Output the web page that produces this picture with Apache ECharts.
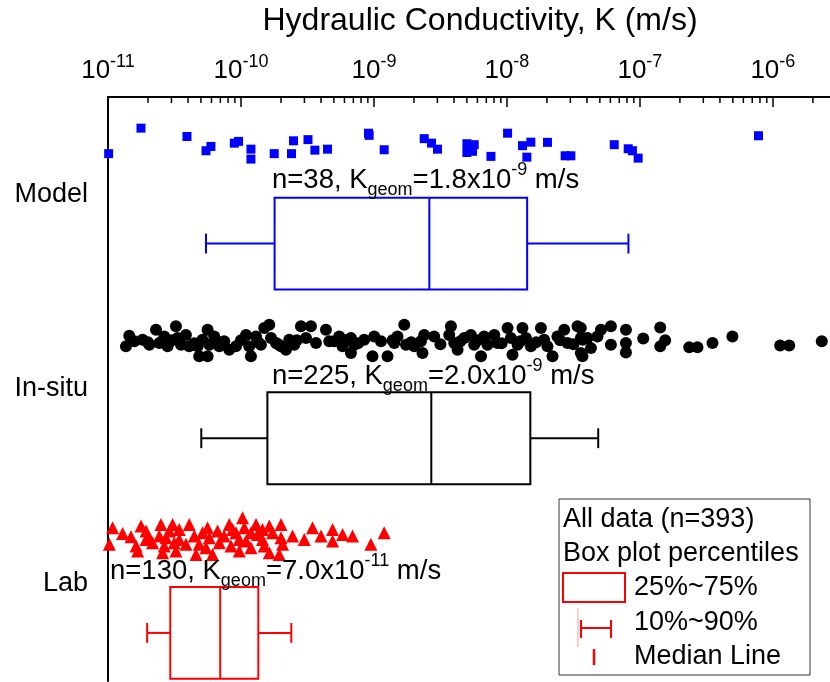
<!DOCTYPE html>
<html lang="en">
<head>
    <meta charset="UTF-8">
    <title>Hydraulic Conductivity</title>
    <script src="https://cdn.jsdelivr.net/npm/echarts@6/dist/echarts.min.js"></script>
    <style>
        html, body { margin: 0; padding: 0; background: #fff; }
        #main { width: 830px; height: 682px; }
    </style>
</head>
<body>
<div id="main"></div>

<script>
    // categories, bottom to top
    var categories = ['Lab', 'In-situ', 'Model'];

    // scatter points: log10(K) and vertical jitter (category units, above the tick)
    var modelLogK = [-10.995, -10.752, -10.406, -10.263, -10.226, -10.050, -10.018, -9.925, -9.925, -9.750,
        -9.620, -9.605, -9.496, -9.444, -9.349, -9.041, -9.036, -8.923, -8.622, -8.567,
        -8.522, -8.301, -8.246, -8.301, -8.259, -8.120, -7.995, -7.883, -7.820, -7.850,
        -7.695, -7.562, -7.519, -7.193, -7.088, -7.056, -7.013, -6.108];
    var modelJitter = [0.209, 0.340, 0.297, 0.224, 0.246, 0.263, 0.272, 0.232, 0.181, 0.209,
        0.209, 0.275, 0.281, 0.227, 0.232, 0.314, 0.303, 0.229, 0.286, 0.263,
        0.232, 0.260, 0.255, 0.215, 0.221, 0.195, 0.314, 0.250, 0.268, 0.191,
        0.267, 0.198, 0.198, 0.255, 0.234, 0.224, 0.186, 0.301];

    var insituLogK = [-10.840, -10.865, -10.802, -10.740, -10.689, -10.639, -10.614, -10.577, -10.552, -10.489,
        -10.477, -10.451, -10.414, -10.389, -10.326, -10.314, -10.289, -10.251, -10.238, -10.251,
        -10.201, -10.163, -10.126, -10.088, -10.038, -9.962, -9.938, -9.925, -9.887, -9.850,
        -9.825, -9.787, -9.774, -9.737, -9.699, -9.662, -9.637, -9.599, -9.549, -9.511,
        -9.474, -9.436, -9.361, -9.336, -9.261, -9.236, -9.198, -9.173, -9.148, -9.173,
        -9.073, -9.011, -8.998, -8.947, -8.898, -8.847, -8.823, -8.772, -8.759, -8.697,
        -8.647, -8.622, -8.635, -8.547, -8.421, -8.434, -8.396, -8.371, -8.321, -8.271,
        -8.246, -8.195, -8.171, -8.146, -8.095, -8.071, -7.995, -7.970, -7.958, -7.920,
        -7.883, -7.857, -7.820, -7.744, -7.720, -7.695, -7.657, -7.620, -7.569, -7.544,
        -7.469, -7.444, -7.432, -7.444, -7.432, -7.444, -7.394, -7.368, -7.319, -7.293,
        -7.218, -7.218, -7.105, -7.105, -7.105, -6.975, -6.847, -6.810, -6.847, -6.629,
        -6.567, -6.454, -6.304, -5.945, -5.877, -5.632,
        -10.700, -10.520, -10.350, -10.180, -10.000, -9.870, -9.720, -9.580, -9.300, -9.120,
        -8.860, -8.720, -8.500, -8.350, -8.220, -8.040, -7.900, -7.780, -7.600, -7.500];
    var insituJitter = [0.273, 0.219, 0.245, 0.253, 0.227, 0.304, 0.236, 0.270, 0.219, 0.322,
        0.262, 0.227, 0.278, 0.219, 0.219, 0.168, 0.253, 0.304, 0.227, 0.168,
        0.270, 0.219, 0.245, 0.202, 0.219, 0.278, 0.219, 0.168, 0.270, 0.227,
        0.313, 0.330, 0.262, 0.236, 0.219, 0.202, 0.253, 0.227, 0.322, 0.262,
        0.322, 0.236, 0.304, 0.245, 0.270, 0.219, 0.253, 0.262, 0.227, 0.185,
        0.253, 0.168, 0.270, 0.245, 0.168, 0.236, 0.270, 0.330, 0.227, 0.219,
        0.245, 0.278, 0.185, 0.270, 0.322, 0.278, 0.236, 0.202, 0.262, 0.278,
        0.227, 0.168, 0.270, 0.227, 0.278, 0.236, 0.313, 0.262, 0.176, 0.227,
        0.313, 0.262, 0.219, 0.313, 0.253, 0.219, 0.168, 0.270, 0.304, 0.236,
        0.322, 0.262, 0.168, 0.313, 0.253, 0.185, 0.262, 0.210, 0.270, 0.304,
        0.322, 0.227, 0.304, 0.236, 0.188, 0.260, 0.316, 0.250, 0.219, 0.215,
        0.215, 0.236, 0.270, 0.224, 0.224, 0.245,
        0.240, 0.250, 0.235, 0.245, 0.250, 0.240, 0.230, 0.250, 0.245, 0.235,
        0.250, 0.240, 0.230, 0.245, 0.250, 0.235, 0.245, 0.240, 0.250, 0.230];

    var labLogK = [-10.990, -10.965, -10.890, -10.827, -10.789, -10.777, -10.752, -10.714, -10.689, -10.665,
        -10.614, -10.602, -10.577, -10.589, -10.539, -10.514, -10.489, -10.464, -10.464, -10.414,
        -10.389, -10.351, -10.338, -10.314, -10.251, -10.238, -10.263, -10.214, -10.176, -10.163,
        -10.126, -10.088, -10.075, -10.038, -10.013, -9.988, -9.975, -9.962, -9.925, -9.887,
        -9.875, -9.838, -9.825, -9.787, -9.787, -9.762, -9.712, -9.699, -9.699, -9.687,
        -9.612, -9.524, -9.462, -9.398, -9.311, -9.311, -9.236, -9.161, -9.023, -8.923,
        -10.564, -10.502, -10.289, -10.013, -9.925, -9.838, -10.063, -10.714];
    var labJitter = [0.202, 0.287, 0.258, 0.241, 0.193, 0.168, 0.296, 0.270, 0.236, 0.210,
        0.245, 0.304, 0.193, 0.159, 0.270, 0.304, 0.168, 0.278, 0.227, 0.202,
        0.304, 0.245, 0.150, 0.202, 0.287, 0.236, 0.185, 0.150, 0.270, 0.210,
        0.245, 0.304, 0.193, 0.262, 0.168, 0.338, 0.287, 0.219, 0.185, 0.304,
        0.253, 0.227, 0.193, 0.296, 0.159, 0.262, 0.150, 0.304, 0.236, 0.202,
        0.245, 0.227, 0.287, 0.245, 0.278, 0.219, 0.253, 0.245, 0.202, 0.262,
        0.236, 0.210, 0.262, 0.227, 0.262, 0.278, 0.278, 0.227];

    // box plot percentiles: 10%, 25%, median, 75%, 90%  (m/s)
    var boxLab    = [1.97e-11, 2.94e-11, 6.98e-11, 1.35e-10, 2.39e-10];
    var boxInsitu = [5.03e-11, 1.58e-10, 2.70e-9, 1.50e-8, 4.86e-8];
    var boxModel  = [5.46e-11, 1.79e-10, 2.61e-9, 1.42e-8, 8.2e-8];
    var boxColors = ['#ff0000', '#000000', '#0000ff'];

    var groupNotes = [
        'n=130, K{sub|geom}=7.0x10{sup|-11} m/s',
        'n=225, K{sub|geom}=2.0x10{sup|-9} m/s',
        'n=38, K{sub|geom}=1.8x10{sup|-9} m/s'
    ];

    var xMin = 1e-11, xMax = 2.69e-6;
    var FONT = 'Liberation Sans, Arial, sans-serif';

    function toPoints(logK, jit, level) {
        var out = [];
        for (var i = 0; i < logK.length; i++) {
            out.push([Math.pow(10, logK[i]), level + jit[i]]);
        }
        return out;
    }

    // log spaced minor ticks (2..9 x 10^n)
    var minorTicks = [];
    for (var e = -11; e <= -6; e++) {
        for (var k = 2; k <= 9; k++) {
            var v = k * Math.pow(10, e);
            if (v < xMax) minorTicks.push([v, 3.5]);
        }
    }

    var boxOffset = -0.253, boxHalf = 0.236, capHalf = 0.051;

    function renderBox(params, api) {
        var yc = api.value(0) + boxOffset;
        var a = api.coord([api.value(1), yc]);
        var b = api.coord([api.value(2), yc]);
        var m = api.coord([api.value(3), yc]);
        var c = api.coord([api.value(4), yc]);
        var d = api.coord([api.value(5), yc]);
        var top = api.coord([api.value(3), yc + boxHalf])[1];
        var bot = api.coord([api.value(3), yc - boxHalf])[1];
        var ct = api.coord([api.value(3), yc + capHalf])[1];
        var cb = api.coord([api.value(3), yc - capHalf])[1];
        var st = { stroke: boxColors[params.dataIndex], lineWidth: 2, fill: 'none' };
        return {
            type: 'group',
            children: [
                { type: 'rect', shape: { x: b[0], y: top, width: c[0] - b[0], height: bot - top }, style: st },
                { type: 'line', shape: { x1: m[0], y1: top, x2: m[0], y2: bot }, style: st },
                { type: 'line', shape: { x1: a[0], y1: a[1], x2: b[0], y2: b[1] }, style: st },
                { type: 'line', shape: { x1: c[0], y1: c[1], x2: d[0], y2: d[1] }, style: st },
                { type: 'line', shape: { x1: a[0], y1: ct, x2: a[0], y2: cb }, style: st },
                { type: 'line', shape: { x1: d[0], y1: ct, x2: d[0], y2: cb }, style: st }
            ]
        };
    }

    function renderMinor(params, api) {
        var p = api.coord([api.value(0), api.value(1)]);
        return {
            type: 'line',
            shape: { x1: p[0], y1: p[1], x2: p[0], y2: p[1] + 6 },
            style: { stroke: '#000', lineWidth: 1.5 }
        };
    }

    var noteRich = {
        sub: { fontSize: 18, fontFamily: FONT, verticalAlign: 'bottom', lineHeight: 19 },
        sup: { fontSize: 18, fontFamily: FONT, verticalAlign: 'top', lineHeight: 19 }
    };
    function noteText(str, x, y) {
        return {
            type: 'text', x: x, y: y, z: 100,
            style: {
                text: str, fontSize: 27.5, fontFamily: FONT, fill: '#000',
                lineHeight: 38, verticalAlign: 'middle', rich: noteRich
            }
        };
    }
    function legText(str, x, y) {
        return {
            type: 'text', x: x, y: y, z: 100,
            style: { text: str, fontSize: 27, fontFamily: FONT, fill: '#000', verticalAlign: 'middle' }
        };
    }
    function legLine(x1, y1, x2, y2, color, w) {
        return { type: 'line', z: 100, shape: { x1: x1, y1: y1, x2: x2, y2: y2 }, style: { stroke: color, lineWidth: w } };
    }

    var myChart = echarts.init(document.getElementById('main'));

    var option = {
        backgroundColor: '#fff',
        animation: false,
        grid: { left: 108, top: 96, right: 0, height: 585 },
        xAxis: {
            type: 'log',
            position: 'top',
            min: xMin,
            max: xMax,
            name: 'Hydraulic Conductivity, K (m/s)',
            nameLocation: 'middle',
            nameGap: 60,
            nameTextStyle: { fontSize: 32, fontFamily: FONT, color: '#000', padding: [0, 0, 0, 22] },
            axisLine: { lineStyle: { color: '#000', width: 2 } },
            axisTick: { inside: true, length: 10, lineStyle: { color: '#000', width: 1.5 } },
            splitLine: { show: false },
            axisLabel: {
                showMaxLabel: false,
                margin: 8,
                fontSize: 26,
                fontFamily: FONT,
                color: '#000',
                lineHeight: 36,
                formatter: function (val) {
                    var ex = Math.log10(val);
                    if (Math.abs(ex - Math.round(ex)) > 0.01) return '';
                    return '10{sup|' + Math.round(ex) + '}';
                },
                rich: {
                    sup: { fontSize: 18, fontFamily: FONT, color: '#000', verticalAlign: 'top', lineHeight: 20 }
                }
            }
        },
        yAxis: [
            {
                type: 'category',
                data: categories,
                boundaryGap: true,
                axisLine: { lineStyle: { color: '#000', width: 2 } },
                axisTick: { alignWithLabel: true, length: 10, lineStyle: { color: '#000', width: 2 } },
                axisLabel: { margin: 20, fontSize: 27, fontFamily: FONT, color: '#000' },
                splitLine: { show: false }
            },
            {
                type: 'value',
                min: 0.5,
                max: 3.5,
                show: false
            }
        ],
        series: [
            {
                type: 'custom',
                name: 'minorTicks',
                silent: true,
                yAxisIndex: 1,
                renderItem: renderMinor,
                encode: { x: 0, y: 1 },
                data: minorTicks,
                z: 5
            },
            {
                type: 'scatter',
                name: 'Model',
                yAxisIndex: 1,
                symbol: 'rect',
                symbolSize: 9,
                itemStyle: { color: '#0000ff', opacity: 1 },
                data: toPoints(modelLogK, modelJitter, 3)
            },
            {
                type: 'scatter',
                name: 'In-situ',
                yAxisIndex: 1,
                symbol: 'circle',
                symbolSize: 12,
                itemStyle: { color: '#000000', opacity: 1 },
                data: toPoints(insituLogK, insituJitter, 2)
            },
            {
                type: 'scatter',
                name: 'Lab',
                yAxisIndex: 1,
                symbol: 'triangle',
                symbolSize: 13,
                itemStyle: { color: '#ff0000', opacity: 1 },
                data: toPoints(labLogK, labJitter, 1)
            },
            {
                type: 'custom',
                name: 'boxes',
                yAxisIndex: 1,
                renderItem: renderBox,
                encode: { x: [1, 2, 3, 4, 5], y: 0 },
                data: [
                    [1].concat(boxLab),
                    [2].concat(boxInsitu),
                    [3].concat(boxModel)
                ]
            }
        ],
        graphic: [
            noteText(groupNotes[2], 272, 180),
            noteText(groupNotes[1], 272, 376),
            noteText(groupNotes[0], 110, 571),
            // legend box
            {
                type: 'rect', z: 99,
                shape: { x: 559, y: 499, width: 251, height: 176 },
                style: { fill: '#fff', stroke: '#333', lineWidth: 1 }
            },
            legText('All data (n=393)', 563, 520),
            legText('Box plot percentiles', 563, 554),
            {
                type: 'rect', z: 100,
                shape: { x: 563, y: 573, width: 62, height: 29 },
                style: { fill: 'none', stroke: '#ff0000', lineWidth: 2 }
            },
            legText('25%~75%', 634, 588),
            legLine(578, 608, 578, 647, '#ff9999', 1),
            legLine(581, 628, 611, 628, '#ff0000', 2),
            legLine(581, 620, 581, 638, '#ff0000', 2),
            legLine(611, 620, 611, 638, '#ff0000', 2),
            legText('10%~90%', 634, 623),
            legLine(594, 649, 594, 665, '#ff0000', 2.5),
            legText('Median Line', 634, 657)
        ]
    };

    myChart.setOption(option);
</script>

</body>
</html>
